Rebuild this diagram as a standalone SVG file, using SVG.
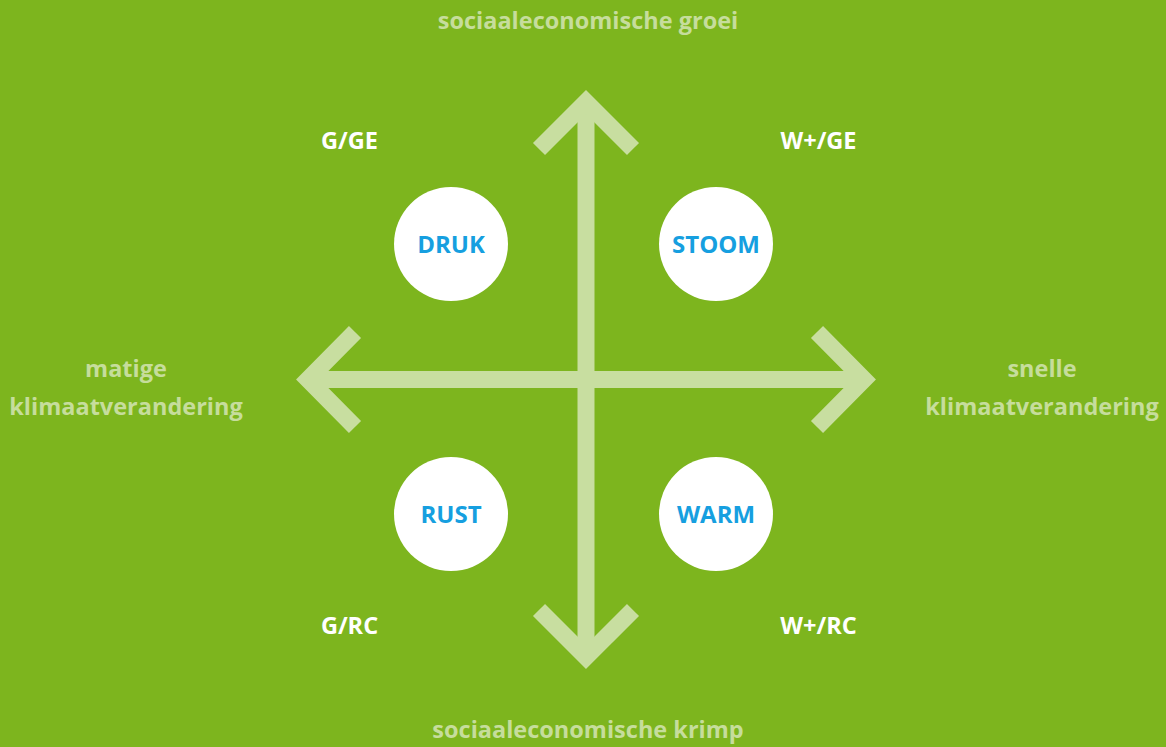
<svg xmlns="http://www.w3.org/2000/svg" width="1166" height="747" viewBox="0 0 1166 747">
<style>
.axis{font-family:"Open Sans","Liberation Sans",sans-serif;font-weight:700;font-size:23.5px;fill:#c6dd9c;text-anchor:middle}
.code{font-family:"Open Sans","Liberation Sans",sans-serif;font-weight:700;font-size:23.5px;fill:#ffffff;text-anchor:middle}
.name{font-family:"Open Sans","Liberation Sans",sans-serif;font-weight:700;font-size:24px;fill:#169fe0;text-anchor:middle}
.arr{fill:none;stroke:#c8dea0;stroke-width:17;stroke-linejoin:miter;stroke-linecap:butt}
circle{fill:#ffffff}
</style>
<rect x="0" y="0" width="1166" height="747" fill="#7db51e"/>
<g id="connectors">
<line class="arr" x1="586" y1="100" x2="586" y2="660"/>
<line class="arr" x1="306" y1="379.5" x2="866" y2="379.5"/>
<polyline class="arr" points="539,149 586,102 633,149"/>
<polyline class="arr" points="539,610 586,657 633,610"/>
<polyline class="arr" points="355,332 308,379.5 355,427"/>
<polyline class="arr" points="817,332 864,379.5 817,427"/>
</g>
<g id="axis-top"><text class="axis" x="588" y="29">sociaaleconomische groei</text></g>
<g id="axis-bottom"><text class="axis" x="588" y="738">sociaaleconomische krimp</text></g>
<g id="axis-left"><text class="axis" x="126" y="377">matige</text><text class="axis" x="126" y="415">klimaatverandering</text></g>
<g id="axis-right"><text class="axis" x="1042" y="377">snelle</text><text class="axis" x="1042" y="415">klimaatverandering</text></g>
<g id="label-gge"><text class="code" x="349.5" y="149">G/GE</text></g>
<g id="label-wge"><text class="code" x="818.5" y="149">W+/GE</text></g>
<g id="label-grc"><text class="code" x="349.5" y="634">G/RC</text></g>
<g id="label-wrc"><text class="code" x="818.5" y="634">W+/RC</text></g>
<g id="node-druk"><circle cx="451" cy="244" r="57"/><text class="name" x="451" y="252.5">DRUK</text></g>
<g id="node-stoom"><circle cx="716" cy="244" r="57"/><text class="name" x="716" y="252.5">STOOM</text></g>
<g id="node-rust"><circle cx="451" cy="514" r="57"/><text class="name" x="451" y="522.5">RUST</text></g>
<g id="node-warm"><circle cx="716" cy="514" r="57"/><text class="name" x="716" y="522.5">WARM</text></g>
</svg>
